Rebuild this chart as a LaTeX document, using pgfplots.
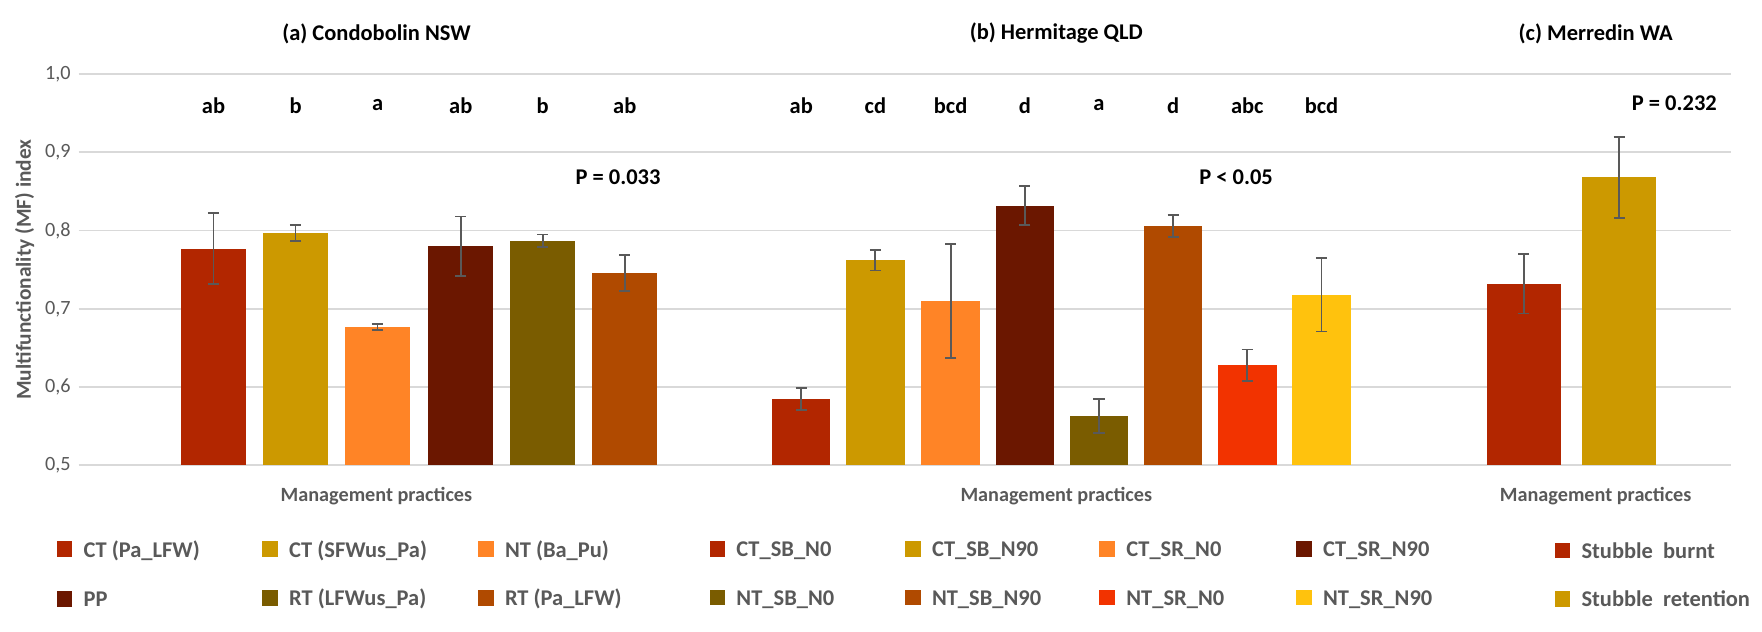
\documentclass[border=0pt]{standalone}
\usepackage{pgfplots}
\pgfplotsset{compat=1.18}
\usepackage{fontspec}
\setmainfont{Carlito}
\definecolor{cA}{HTML}{B22600}
\definecolor{cB}{HTML}{CC9900}
\definecolor{cC}{HTML}{FF8426}
\definecolor{cD}{HTML}{6B1700}
\definecolor{cE}{HTML}{7A5C00}
\definecolor{cF}{HTML}{B04A00}
\definecolor{cG}{HTML}{F23300}
\definecolor{cH}{HTML}{FFC20D}
\definecolor{txt}{HTML}{595959}
\newcommand{\bb}[5]{\addplot[ybar,bar width=#4,fill=#5,draw=none,bar shift=0pt,
  error bars/.cd,y dir=both,y explicit,error bar style={txt,line width=0.8pt},
  error mark options={txt,line width=0.8pt,mark size=2.5pt,rotate=90}]
  coordinates {(#1,#2) +- (0,#3)};}
\newcommand{\sq}[1]{\textcolor{#1}{\rule{7pt}{7pt}}\hspace{5pt}}
\newcommand{\lt}[3]{\node[anchor=west,inner sep=0pt,text=txt,font=\bfseries\fontsize{10}{12}\selectfont] at (axis cs:#1,#2) {#3};}
\newcommand{\lb}[2]{\node[font=\bfseries\fontsize{10}{12}\selectfont] at (axis cs:#1,0.96) {#2};}
\begin{document}
\begin{tikzpicture}
\path (-35pt,-74pt) rectangle (749pt,207pt);
\begin{axis}[
  at={(0,0)},anchor=south west,
  scale only axis, width=735pt, height=174pt,
  xmin=70, xmax=1540, ymin=0.5, ymax=1.0,
  clip=false,
  xtick=\empty, ytick={0.5,0.6,...,1.0},
  ymajorgrids, grid style={draw=black!15,line width=0.8pt},
  axis line style={draw=none}, major tick length=0pt,
  yticklabel style={text=txt,font=\fontsize{9}{10}\selectfont},
  /pgf/number format/.cd, use comma, fixed, fixed zerofill, precision=1, assume math mode=true,
  /pgfplots/ylabel={\bfseries Multifunctionality (MF) index},
  ylabel style={text=txt,font=\bfseries\fontsize{9.5}{11}\selectfont, yshift=-2pt},
]
\bb{190}{0.777}{0.045}{58}{cA}
\bb{263}{0.797}{0.010}{58}{cB}
\bb{336}{0.677}{0.004}{58}{cC}
\bb{410}{0.780}{0.038}{58}{cD}
\bb{483}{0.787}{0.008}{58}{cE}
\bb{556}{0.746}{0.023}{58}{cF}
\bb{713}{0.585}{0.014}{52}{cA}
\bb{779}{0.762}{0.013}{52}{cB}
\bb{846}{0.710}{0.073}{52}{cC}
\bb{912}{0.832}{0.025}{52}{cD}
\bb{978}{0.563}{0.022}{52}{cE}
\bb{1044}{0.806}{0.014}{52}{cF}
\bb{1110}{0.628}{0.020}{52}{cG}
\bb{1176}{0.718}{0.047}{52}{cH}
\bb{1356}{0.732}{0.038}{66}{cA}
\bb{1441}{0.868}{0.052}{66}{cB}
\begin{scope}[every node/.style={font=\bfseries\fontsize{10}{12}\selectfont}]
\node at (axis cs:335,1.052) {(a) Condobolin NSW};
\node at (axis cs:940,1.052) {(b) Hermitage QLD};
\node at (axis cs:1420,1.052) {(c) Merredin WA};
\node at (axis cs:550,0.868) {P = 0.033};
\node at (axis cs:1100,0.868) {P < 0.05};
\node at (axis cs:1490,0.963) {P = 0.232};
\end{scope}
\lb{190}{ab}\lb{263}{b}\lb{336}{a}\lb{410}{ab}\lb{483}{b}\lb{556}{ab}
\lb{713}{ab}\lb{779}{cd}\lb{846}{bcd}\lb{912}{d}\lb{978}{a}\lb{1044}{d}\lb{1110}{abc}\lb{1176}{bcd}
\begin{scope}[every node/.style={text=txt,font=\bfseries\fontsize{9}{11}\selectfont}]
\node at (axis cs:335,0.461) {Management practices};
\node at (axis cs:940,0.461) {Management practices};
\node at (axis cs:1420,0.461) {Management practices};
\end{scope}
\lt{50}{0.391}{\sq{cA}CT (Pa\_LFW)}
\lt{233}{0.391}{\sq{cB}CT (SFWus\_Pa)}
\lt{425}{0.391}{\sq{cC}NT (Ba\_Pu)}
\lt{50}{0.329}{\sq{cD}PP}
\lt{233}{0.329}{\sq{cE}RT (LFWus\_Pa)}
\lt{425}{0.329}{\sq{cF}RT (Pa\_LFW)}
\lt{631}{0.391}{\sq{cA}CT\_SB\_N0}
\lt{805}{0.391}{\sq{cB}CT\_SB\_N90}
\lt{978}{0.391}{\sq{cC}CT\_SR\_N0}
\lt{1153}{0.391}{\sq{cD}CT\_SR\_N90}
\lt{631}{0.329}{\sq{cE}NT\_SB\_N0}
\lt{805}{0.329}{\sq{cF}NT\_SB\_N90}
\lt{978}{0.329}{\sq{cG}NT\_SR\_N0}
\lt{1153}{0.329}{\sq{cH}NT\_SR\_N90}
\lt{1383}{0.391}{\sq{cA}Stubble\ \ burnt}
\lt{1383}{0.329}{\sq{cB}Stubble\ \ retention}
\end{axis}
\end{tikzpicture}
\end{document}
